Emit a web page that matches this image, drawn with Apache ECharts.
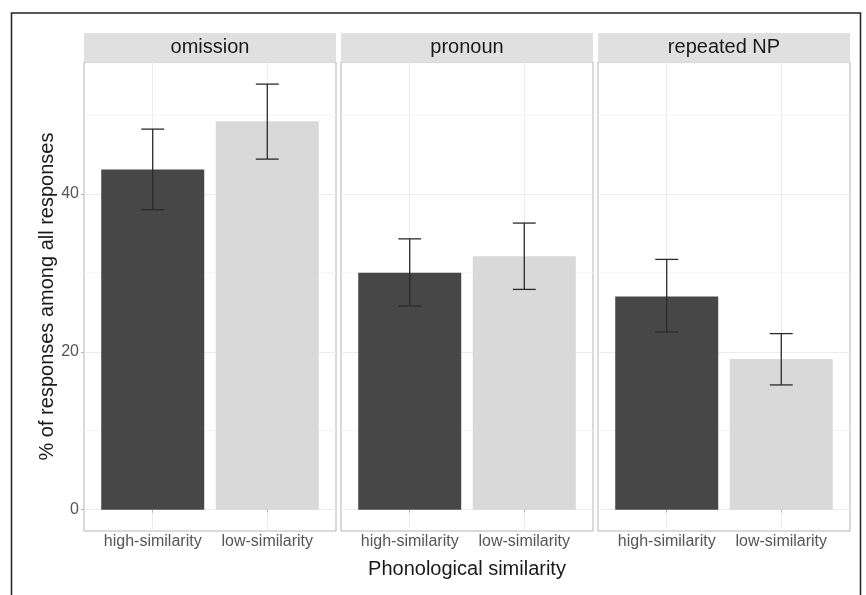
<!DOCTYPE html>
<html>
<head>
<meta charset="utf-8">
<script src="https://cdn.jsdelivr.net/npm/echarts@6/dist/echarts.min.js"></script>
<style>
  html, body { margin: 0; padding: 0; background: #fff; }
  #chart { width: 866px; height: 595px; }
</style>
</head>
<body>
<div id="chart"></div>
<script>
// facets, categories and values
var panels = ['omission', 'pronoun', 'repeated NP'];
var categories = ['high-similarity', 'low-similarity'];
var highVals = [43.1, 30.0, 27.0];
var lowVals  = [49.2, 32.1, 19.1];
var highLo = [38.0, 25.8, 22.5];
var highHi = [48.2, 34.3, 31.7];
var lowLo  = [44.4, 27.9, 15.8];
var lowHi  = [53.9, 36.3, 22.3];
var yTicks = [0, 20, 40];
var yMinor = [10, 30, 50];

var font = "'Liberation Sans', Arial, sans-serif";
var panelLeft = [84, 341, 598];
var panelW = 252, panelTop = 62, panelH = 469;

var chart = echarts.init(document.getElementById('chart'), null, {renderer: 'canvas'});

var grids = [], xAxes = [], yAxes = [], series = [], graphics = [];

panels.forEach(function (name, i) {
    grids.push({
        left: panelLeft[i], top: panelTop, width: panelW, height: panelH,
        show: true, borderColor: '#b5b5b5', borderWidth: 1, backgroundColor: '#fff'
    });
    xAxes.push({
        gridIndex: i, type: 'value', min: 0.4, max: 2.6,
        axisLine: {show: false},
        axisTick: {customValues: [1, 2], length: 3, lineStyle: {color: '#b5b5b5'}},
        axisLabel: {
            customValues: [1, 2], margin: 3, color: '#555', fontSize: 16, fontFamily: font,
            formatter: function (v) { return categories[Math.round(v) - 1]; }
        },
        splitLine: {show: true, lineStyle: {color: '#ececec'}},
        name: i === 1 ? 'Phonological similarity' : '',
        nameLocation: 'middle', nameGap: 28,
        nameTextStyle: {color: '#1a1a1a', fontSize: 20, fontFamily: font}
    });
    yAxes.push({
        gridIndex: i, type: 'value', min: -2.7, max: 56.7,
        axisLine: {show: false},
        axisTick: {show: i === 0, customValues: yTicks, length: 3, lineStyle: {color: '#b5b5b5'}},
        axisLabel: {show: i === 0, customValues: yTicks, margin: 5, color: '#555', fontSize: 16, fontFamily: font},
        splitLine: {show: true, lineStyle: {color: '#ececec'}},
        name: i === 0 ? '% of responses among all responses' : '',
        nameLocation: 'middle', nameGap: 27,
        nameTextStyle: {color: '#1a1a1a', fontSize: 20, fontFamily: font}
    });
    // minor horizontal grid lines (ggplot minor breaks)
    series.push({
        type: 'custom', xAxisIndex: i, yAxisIndex: i, z: 1, silent: true,
        data: yMinor.map(function (v) { return [1, v]; }),
        encode: {x: 0, y: 1},
        renderItem: function (params, api) {
            var cs = params.coordSys;
            var y = api.coord([1, api.value(1)])[1];
            return {type: 'line', shape: {x1: cs.x, y1: y, x2: cs.x + cs.width, y2: y},
                    style: {stroke: '#f3f3f3', lineWidth: 1}};
        }
    });
    series.push({
        type: 'bar', xAxisIndex: i, yAxisIndex: i, barWidth: 103, z: 2,
        data: [
            {value: [1, highVals[i]], itemStyle: {color: '#474747'}},
            {value: [2, lowVals[i]], itemStyle: {color: '#d9d9d9'}}
        ],
        silent: true
    });
    series.push({
        type: 'custom', xAxisIndex: i, yAxisIndex: i,
        data: [[1, highLo[i], highHi[i]], [2, lowLo[i], lowHi[i]]],
        encode: {x: 0, y: [1, 2]},
        renderItem: function (params, api) {
            var x = api.value(0);
            var top = api.coord([x, api.value(2)]);
            var bot = api.coord([x, api.value(1)]);
            var half = api.size([0.1, 0])[0];
            var style = {stroke: '#2b2b2b', lineWidth: 1.3};
            return {
                type: 'group',
                children: [
                    {type: 'line', shape: {x1: top[0], y1: top[1], x2: bot[0], y2: bot[1]}, style: style},
                    {type: 'line', shape: {x1: top[0] - half, y1: top[1], x2: top[0] + half, y2: top[1]}, style: style},
                    {type: 'line', shape: {x1: bot[0] - half, y1: bot[1], x2: bot[0] + half, y2: bot[1]}, style: style}
                ]
            };
        },
        z: 3
    });
    // facet strip
    graphics.push({
        type: 'rect', left: panelLeft[i], top: 33,
        shape: {width: panelW, height: 29},
        style: {fill: '#e0e0e0'}
    });
    graphics.push({
        type: 'text', x: panelLeft[i] + panelW / 2, y: 47.5,
        style: {text: name, fill: '#1a1a1a', font: '20px ' + font, textAlign: 'center', textVerticalAlign: 'middle'}
    });
});

// outer frame of the figure
graphics.push({
    type: 'rect', left: 9, top: 10.5,
    shape: {width: 849, height: 700},
    style: {fill: 'none', stroke: '#222', lineWidth: 1.5}
});

chart.setOption({
    animation: false,
    backgroundColor: '#fff',
    textStyle: {fontFamily: font},
    grid: grids,
    xAxis: xAxes,
    yAxis: yAxes,
    series: series,
    graphic: graphics
});
</script>
</body>
</html>
